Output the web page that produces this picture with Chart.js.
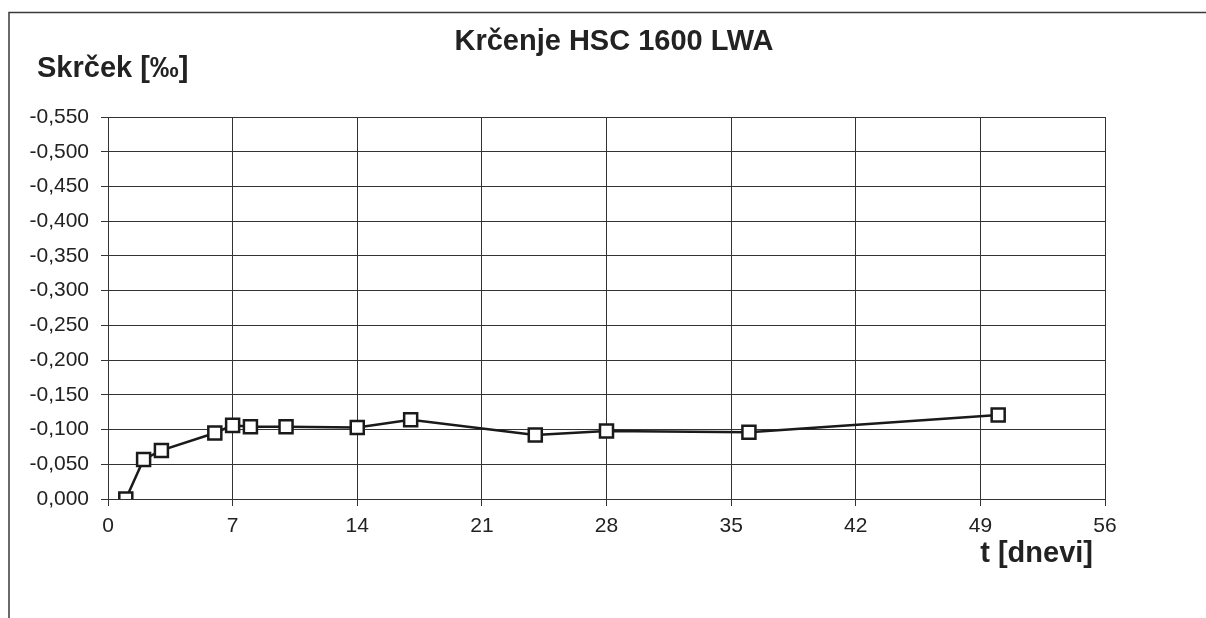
<!DOCTYPE html>
<html>
<head>
<meta charset="utf-8">
<script src="https://cdn.jsdelivr.net/npm/chart.js@4"></script>
<style>
  html, body { margin: 0; padding: 0; background: #fff; }
  #wrap { width: 1206px; height: 618px; position: relative; }
</style>
</head>
<body>
<div id="wrap"><canvas id="dash"></canvas></div>
<script>
// dnevi (t) in skrček [‰]
var dnevi = [1, 2, 3, 6, 7, 8, 10, 14, 17, 24, 28, 36, 50];
var skrcek = [0, -0.057, -0.070, -0.095, -0.106, -0.104, -0.104, -0.103, -0.114, -0.092, -0.098, -0.096, -0.121];

var naslov = "Krčenje HSC 1600 LWA";
var naslovY = "Skrček [‰]";
var naslovX = "t [dnevi]";

var tockeGraf = [];
for (var i = 0; i < dnevi.length; i++) {
  tockeGraf.push({ x: dnevi[i], y: skrcek[i] });
}

// okvir in napisi
var okvir = {
  id: "okvir",
  beforeDraw: function (chart) {
    var ctx = chart.ctx;
    ctx.save();
    ctx.strokeStyle = "#3a3a3a";
    ctx.lineWidth = 1.5;
    ctx.beginPath();
    ctx.moveTo(9, 618);
    ctx.lineTo(9, 12.5);
    ctx.lineTo(1206, 12.5);
    ctx.stroke();
    ctx.restore();
  },
  afterDraw: function (chart) {
    var ctx = chart.ctx;
    ctx.save();
    ctx.fillStyle = "#222";
    ctx.textBaseline = "alphabetic";
    ctx.font = "bold 29px 'Liberation Sans', Arial";
    ctx.textAlign = "center";
    ctx.fillText(naslov, 614, 50);
    ctx.textAlign = "left";
    ctx.fillText(naslovY, 37, 77);
    ctx.textAlign = "right";
    ctx.fillText(naslovX, 1093, 562);
    ctx.restore();
  }
};

new Chart(document.getElementById("dash"), {
  type: "line",
  data: {
    datasets: [{
      label: "skrček",
      data: tockeGraf,
      borderColor: "#1a1a1a",
      borderWidth: 2.5,
      pointStyle: "rect",
      pointRadius: 9.2,
      pointBorderWidth: 2.5,
      pointBackgroundColor: "#fff",
      pointBorderColor: "#1a1a1a",
      tension: 0
    }]
  },
  options: {
    responsive: true,
    maintainAspectRatio: false,
    animation: false,
    layout: { padding: { top: 117, right: 101, left: 0, bottom: 0 } },
    scales: {
      x: {
        type: "linear",
        min: 0,
        max: 56,
        ticks: {
          stepSize: 7,
          color: "#222",
          padding: 8,
          font: { size: 21, family: "'Liberation Sans', Arial" }
        },
        grid: { color: "#333", lineWidth: 1, tickLength: 7 },
        border: { color: "#333", width: 1 },
        afterFit: function (s) { s.height = 119; }
      },
      y: {
        min: -0.55,
        max: 0,
        reverse: true,
        ticks: {
          stepSize: 0.05,
          color: "#222",
          padding: 12,
          font: { size: 21, family: "'Liberation Sans', Arial" },
          callback: function (v) {
            if (Math.abs(v) < 1e-9) v = 0;
            return v.toFixed(3).replace(".", ",");
          }
        },
        grid: { color: "#333", lineWidth: 1, tickLength: 7 },
        border: { color: "#333", width: 1 },
        afterFit: function (s) { s.width = 108; }
      }
    },
    plugins: {
      legend: { display: false },
      tooltip: { enabled: false }
    }
  },
  plugins: [okvir]
});
</script>
</body>
</html>
